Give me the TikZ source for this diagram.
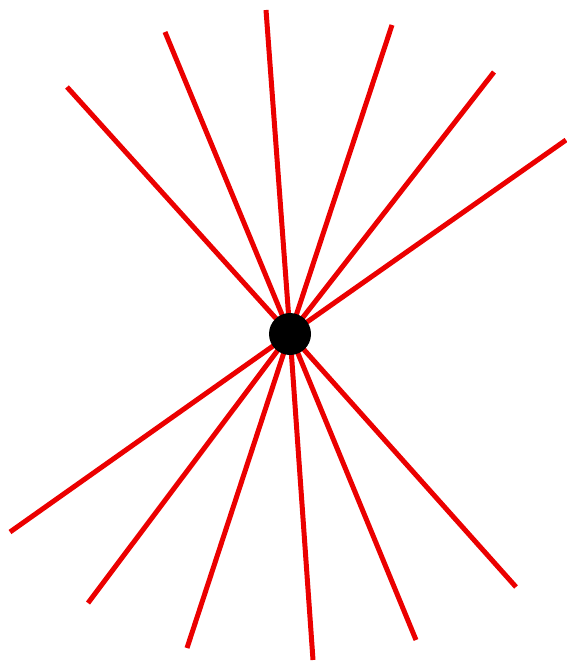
\documentclass[tikz,border=0pt]{standalone}
\usepackage{tikz}

\begin{document}
\begin{tikzpicture}[x=1pt,y=-1pt,ray/.style={red!92!black,line width=5pt},hubdot/.style={circle,fill=black,minimum size=42pt,inner sep=0pt}]
\useasboundingbox (0,0) rectangle (566,663);
\coordinate (mid) at (290,334);
\foreach \x/\y [count=\i] in {67/87,165/32,266/10,392/25,494/72,566/140,10/532,88/603,187/648,313/660,416/640,516/587} {
  \coordinate (tip\i) at (\x,\y);
  \draw[ray] (mid) -- (tip\i);
}
\node[hubdot] (hub) at (mid) {};
\end{tikzpicture}
\end{document}
